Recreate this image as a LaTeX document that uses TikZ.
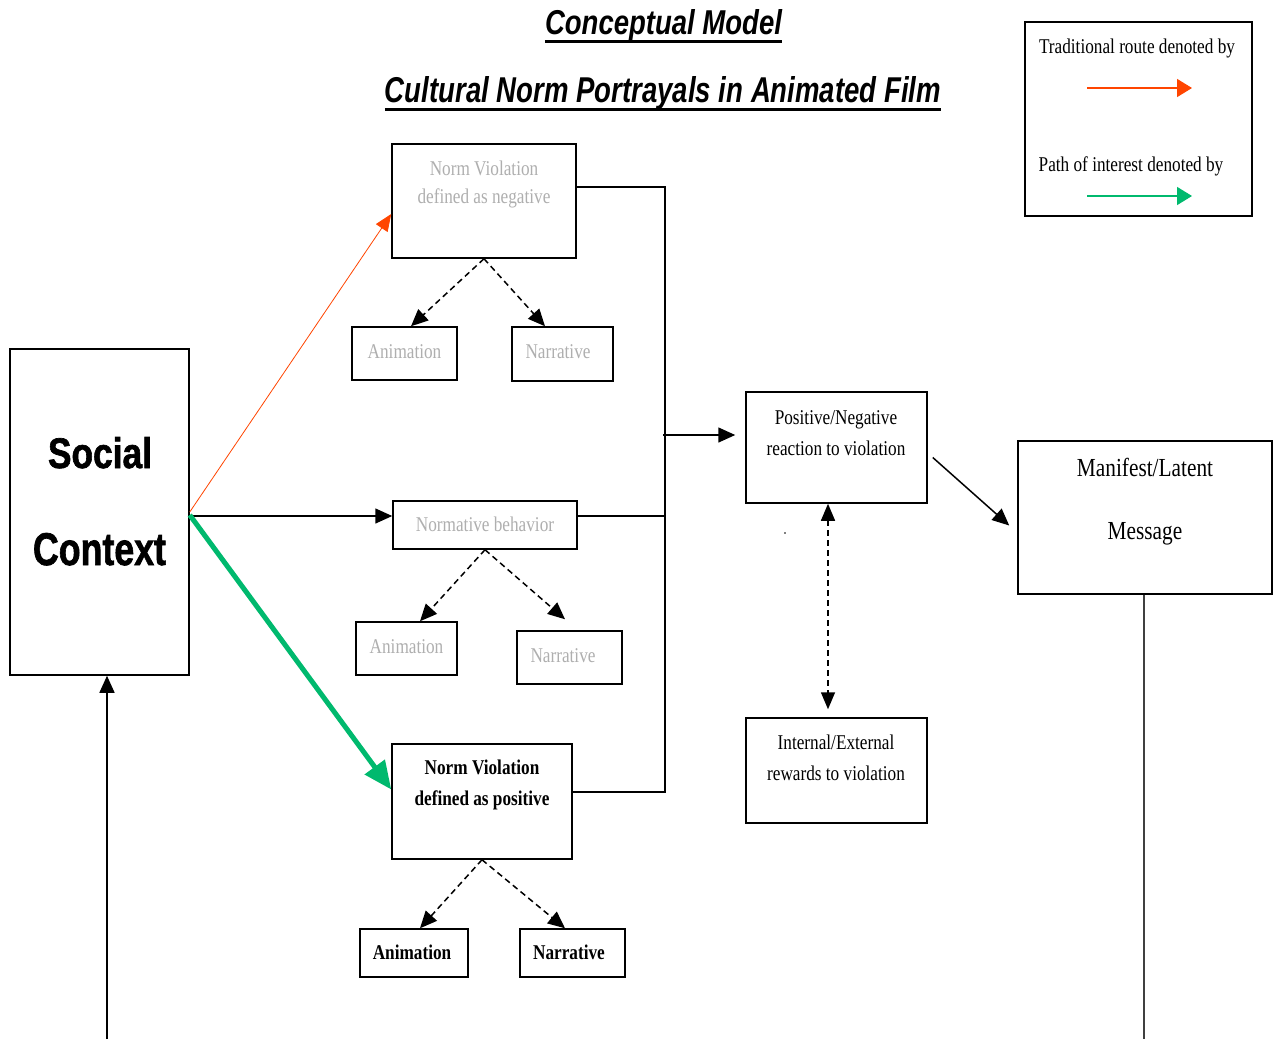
\documentclass[tikz,border=0pt]{standalone}
\usepackage{fontspec}
\usetikzlibrary{arrows.meta,calc}
\setmainfont{Liberation Serif}
\newfontfamily\tnr[FakeStretch=0.82]{Liberation Serif}
\newfontfamily\hsans{Liberation Sans}
\newfontfamily\hheavy[FakeBold=1.6]{Liberation Sans}
\definecolor{myred}{RGB}{255,69,0}
\definecolor{mygreen}{RGB}{0,185,110}
\definecolor{txtgray}{RGB}{175,175,175}
\begin{document}
\begin{tikzpicture}[x=1pt,y=-1pt,
 box/.style={draw=black, line width=1.5pt, inner sep=0pt},
 lbl/.style={anchor=base, inner sep=0pt, font=\tnr\fontsize{21}{21}\selectfont},
 glbl/.style={lbl, text=txtgray},
 blbl/.style={anchor=base, inner sep=0pt, font=\tnr\bfseries\fontsize{21}{21}\selectfont},
 mlbl/.style={anchor=base, inner sep=0pt, font=\tnr\fontsize{26}{26}\selectfont},
 con/.style={line width=1.5pt},
 tip/.style={-{Triangle[length=17pt,width=15pt]}},
 arr/.style={con, tip},
 darr/.style={arr, dash pattern=on 6pt off 4pt},
 ddarr/.style={con, dash pattern=on 6pt off 4pt, {Triangle[length=17pt,width=14pt]}-{Triangle[length=17pt,width=14pt]}},
 ttl/.style={anchor=base, inner sep=0pt, font=\hsans\bfseries\itshape},
 big/.style={anchor=base, inner sep=0pt, font=\hheavy\bfseries},
]
\useasboundingbox (0,0) rectangle (1276,1039);
\fill[white] (0,0) rectangle (1276,1039);

% titles
\node[ttl] (t1) at (663.5,34) {\resizebox{237pt}{25pt}{Conceptual Model}};
\node[ttl] (t2) at (663,102) {\resizebox{556pt}{26pt}{Cultural Norm Portrayals in Animated Film}};
\draw[line width=3pt] (t1.south west |- 0,41) -- (t1.south east |- 0,41);
\draw[line width=3pt] (t2.south west |- 0,109) -- (t2.south east |- 0,109);

% legend
\node[box, minimum width=227pt, minimum height=194pt] (leg) at (1138.5,119) {};
\node[lbl] (legt1) at (1137,53) {Traditional route denoted by};
\node[lbl] (legt2) at (1131,171) {Path of interest denoted by};
\coordinate (lr1) at (1087,88);
\coordinate (lr2) at (1192,88);
\coordinate (lg1) at (1087,196);
\coordinate (lg2) at (1192,196);
\draw[line width=1.5pt, myred, -{Triangle[length=15pt,width=18pt]}] (lr1) -- (lr2);
\draw[line width=1.5pt, mygreen, -{Triangle[length=15pt,width=18pt]}] (lg1) -- (lg2);

% boxes
\node[box, minimum width=179pt, minimum height=326pt] (social) at (99.5,512) {};
\node[big] (soc1) at (100,468) {\resizebox{104pt}{31pt}{Social}};
\node[big] (soc2) at (99.5,565) {\resizebox{133pt}{32pt}{Context}};

\node[box, minimum width=184pt, minimum height=114pt] (nvneg) at (484,201) {};
\node[glbl] (nvneg1) at (484,175) {Norm Violation};
\node[glbl] (nvneg2) at (484,203) {defined as negative};
\node[box, minimum width=105pt, minimum height=53pt] (anim1) at (404.5,353.5) {};
\node[glbl] (anim1t) at (404.5,358) {Animation};
\node[box, minimum width=101pt, minimum height=54pt] (narr1) at (562.5,354) {};
\node[glbl] (narr1t) at (558,358) {Narrative};

\node[box, minimum width=184pt, minimum height=48pt] (nbeh) at (485,525) {};
\node[glbl] (nbeht) at (485,531) {Normative behavior};
\node[box, minimum width=101pt, minimum height=53pt] (anim2) at (406.5,648.5) {};
\node[glbl] (anim2t) at (406.5,653) {Animation};
\node[box, minimum width=105pt, minimum height=53pt] (narr2) at (569.5,657.5) {};
\node[glbl] (narr2t) at (563,662) {Narrative};

\node[box, minimum width=180pt, minimum height=115pt] (nvpos) at (482,801.5) {};
\node[blbl] (nvpos1) at (482,774) {Norm Violation};
\node[blbl] (nvpos2) at (482,805) {defined as positive};
\node[box, minimum width=108pt, minimum height=48pt] (anim3) at (414,953) {};
\node[blbl] (anim3t) at (412,959) {Animation};
\node[box, minimum width=105pt, minimum height=48pt] (narr3) at (572.5,953) {};
\node[blbl] (narr3t) at (569,959) {Narrative};

\node[box, minimum width=181pt, minimum height=111pt] (posneg) at (836.5,447.5) {};
\node[lbl] (posneg1) at (836,424) {Positive/Negative};
\node[lbl] (posneg2) at (836,455) {reaction to violation};
\node[box, minimum width=181pt, minimum height=105pt] (intext) at (836.5,770.5) {};
\node[lbl] (intext1) at (836,749) {Internal/External};
\node[lbl] (intext2) at (836,780) {rewards to violation};

\node[box, minimum width=254pt, minimum height=153pt] (manif) at (1145,517.5) {};
\node[mlbl] (manif1) at (1145,476) {Manifest/Latent};
\node[mlbl] (manif2) at (1145,539) {Message};

\fill (785,533) circle (0.8pt);

% connectors from social context
\draw[line width=0.8pt, myred, -{Triangle[length=17pt,width=14pt]}] (social.east) -- ([yshift=-13pt]nvneg.west);
\draw[arr] ([yshift=-4pt]social.east) -- ([yshift=-4pt]social.east -| nbeh.west);
\draw[line width=5pt, mygreen, -{Triangle[length=28pt,width=24pt]}] ([yshift=-3pt]social.east) -- ([yshift=12pt]nvpos.west);

% dashed arrows to sub boxes
\draw[darr] (nvneg.south) -- ([xshift=6.5pt]anim1.north);
\draw[darr] (nvneg.south) -- ([xshift=-17.5pt]narr1.north);
\draw[darr] (nbeh.south) -- ([xshift=13.5pt]anim2.north);
\draw[darr] (nbeh.south) -- ([xshift=-4.5pt,yshift=11pt]narr2.north);
\draw[darr] (nvpos.south) -- ([xshift=6pt]anim3.north);
\draw[darr] (nvpos.south) -- ([xshift=-7.5pt]narr3.north);

% bracket
\coordinate (bt) at (665,187);
\coordinate (bb) at (665,792);
\coordinate (bm) at (663,435);
\draw[con] ([yshift=14pt]nvneg.east) -- (bt) -- (bb) -- (bb -| nvpos.east);
\draw[con] ([yshift=9pt]nbeh.east) -- ([yshift=9pt]nbeh.east -| bt);
\draw[arr] (bm) -- ([xshift=-10pt,yshift=12.5pt]posneg.west);

% right side
\draw[arr] ([xshift=5pt,yshift=-10pt]posneg.east) -- ([xshift=-8pt,yshift=-8pt]manif.west);
\draw[ddarr] ([xshift=-8.5pt]posneg.south) -- ([xshift=-8.5pt,yshift=8pt]intext.north);

% feedback loop
\coordinate (fb1) at (1144,1039);
\coordinate (fb2) at (107,1039);
\draw[con, black!75] ([xshift=-1pt]manif.south) -- (fb1);
\draw[arr] (fb2) -- ([xshift=7.5pt]social.south);
\end{tikzpicture}
\end{document}
